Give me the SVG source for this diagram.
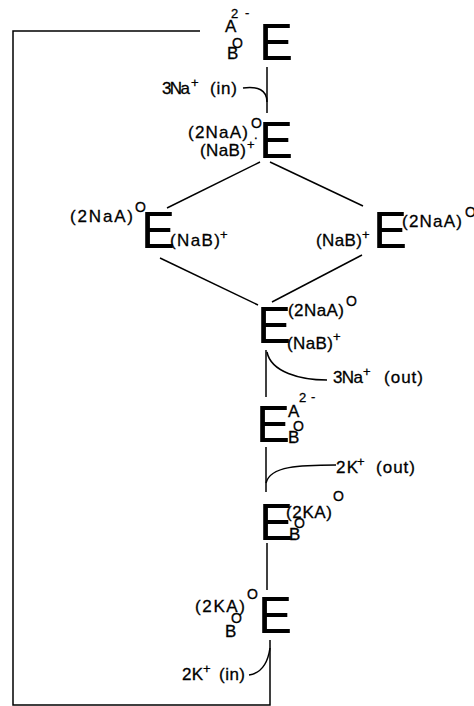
<svg xmlns="http://www.w3.org/2000/svg" width="474" height="706" viewBox="0 0 474 706">
<style>
.E{font-family:"Liberation Sans",Arial,sans-serif;font-size:51px;fill:#000}
.t{font-family:"Liberation Sans",Arial,sans-serif;font-size:17px;fill:#000;stroke:#000;stroke-width:0.3}
.s{font-family:"Liberation Sans",Arial,sans-serif;font-size:13px;fill:#000;stroke:#000;stroke-width:0.3}
.o{font-family:"Liberation Sans",Arial,sans-serif;font-size:14px;fill:#000;stroke:#000;stroke-width:0.3}
.c{fill:none;stroke:#000;stroke-width:1.5}
</style>
<rect width="474" height="706" fill="#fff"/>
<g id="connectors">
<path class="c" d="M200,31 H13 V705 H270 V640"/>
<path class="c" d="M267,67 V113"/>
<path class="c" d="M243,88 C258,86 267,90 267,102"/>
<path class="c" d="M260,162 L167,208"/>
<path class="c" d="M270,162 L363,206"/>
<path class="c" d="M160,258 L258,305"/>
<path class="c" d="M362,255 L272,302"/>
<path class="c" d="M266,350 V397"/>
<path class="c" d="M267,352 C271,372 300,380 327,380"/>
<path class="c" d="M266,447 V492"/>
<path class="c" d="M266,483 C270,466 300,465 336,465"/>
<path class="c" d="M267,543 V590"/>
<path class="c" d="M249,675 C262,673 268,662 270,648"/>
</g>
<g id="label-na-in">
<text class="t" x="162" y="94" textLength="28" lengthAdjust="spacing">3Na</text>
<text class="s" x="191" y="87">+</text>
<text class="t" x="210" y="94" textLength="27" lengthAdjust="spacing">(in)</text>
</g>
<g id="label-na-out">
<text class="t" x="333" y="383" textLength="30" lengthAdjust="spacing">3Na</text>
<text class="s" x="363" y="376">+</text>
<text class="t" x="384" y="383" textLength="39" lengthAdjust="spacing">(out)</text>
</g>
<g id="label-k-out">
<text class="t" x="336" y="473" textLength="22" lengthAdjust="spacing">2K</text>
<text class="s" x="357" y="466">+</text>
<text class="t" x="376" y="473" textLength="39" lengthAdjust="spacing">(out)</text>
</g>
<g id="label-k-in">
<text class="t" x="182" y="680" textLength="21" lengthAdjust="spacing">2K</text>
<text class="s" x="203" y="673">+</text>
<text class="t" x="219" y="680" textLength="26" lengthAdjust="spacing">(in)</text>
</g>
<g id="node1">
<text class="E" x="259" y="60">E</text>
<text class="t" x="225" y="32">A</text>
<text class="s" x="231" y="18">2</text>
<text class="s" x="245" y="17">-</text>
<text class="t" x="227" y="59">B</text>
<text class="o" x="232" y="48">O</text>
</g>
<g id="node2">
<text class="E" x="259" y="158">E</text>
<text class="t" x="188" y="138" textLength="60" lengthAdjust="spacing">(2NaA)</text>
<text class="o" x="251" y="128">O</text>
<text class="s" x="254" y="139">.</text>
<text class="t" x="200" y="156" textLength="46" lengthAdjust="spacing">(NaB)</text>
<text class="s" x="247" y="149">+</text>
</g>
<g id="node3a">
<text class="E" x="141" y="248">E</text>
<text class="t" x="70" y="222" textLength="63" lengthAdjust="spacing">(2NaA)</text>
<text class="o" x="135" y="212">O</text>
<text class="t" x="170" y="246" textLength="50" lengthAdjust="spacing">(NaB)</text>
<text class="s" x="220" y="239">+</text>
</g>
<g id="node3b">
<text class="E" x="373" y="248">E</text>
<text class="t" x="316" y="246" textLength="46" lengthAdjust="spacing">(NaB)</text>
<text class="s" x="362" y="239">+</text>
<text class="t" x="402" y="227" textLength="60" lengthAdjust="spacing">(2NaA)</text>
<text class="o" x="465" y="217">O</text>
</g>
<g id="node4">
<text class="E" x="257" y="343">E</text>
<text class="t" x="288" y="316" textLength="56" lengthAdjust="spacing">(2NaA)</text>
<text class="o" x="346" y="306">O</text>
<text class="t" x="287" y="349" textLength="46" lengthAdjust="spacing">(NaB)</text>
<text class="s" x="333" y="341">+</text>
</g>
<g id="node5">
<text class="E" x="256" y="442">E</text>
<text class="t" x="288" y="417">A</text>
<text class="s" x="299" y="402">2</text>
<text class="s" x="311" y="401">-</text>
<text class="t" x="288" y="443">B</text>
<text class="o" x="293" y="431">O</text>
</g>
<g id="node6">
<text class="E" x="259" y="540">E</text>
<text class="t" x="286" y="518" textLength="46" lengthAdjust="spacing">(2KA)</text>
<text class="o" x="333" y="501">O</text>
<text class="t" x="289" y="540">B</text>
<text class="o" x="294" y="528">O</text>
</g>
<g id="node7">
<text class="E" x="258" y="633">E</text>
<text class="t" x="195" y="612" textLength="50" lengthAdjust="spacing">(2KA)</text>
<text class="o" x="247" y="599">O</text>
<text class="t" x="225" y="637">B</text>
<text class="o" x="231" y="623">O</text>
</g>
</svg>
